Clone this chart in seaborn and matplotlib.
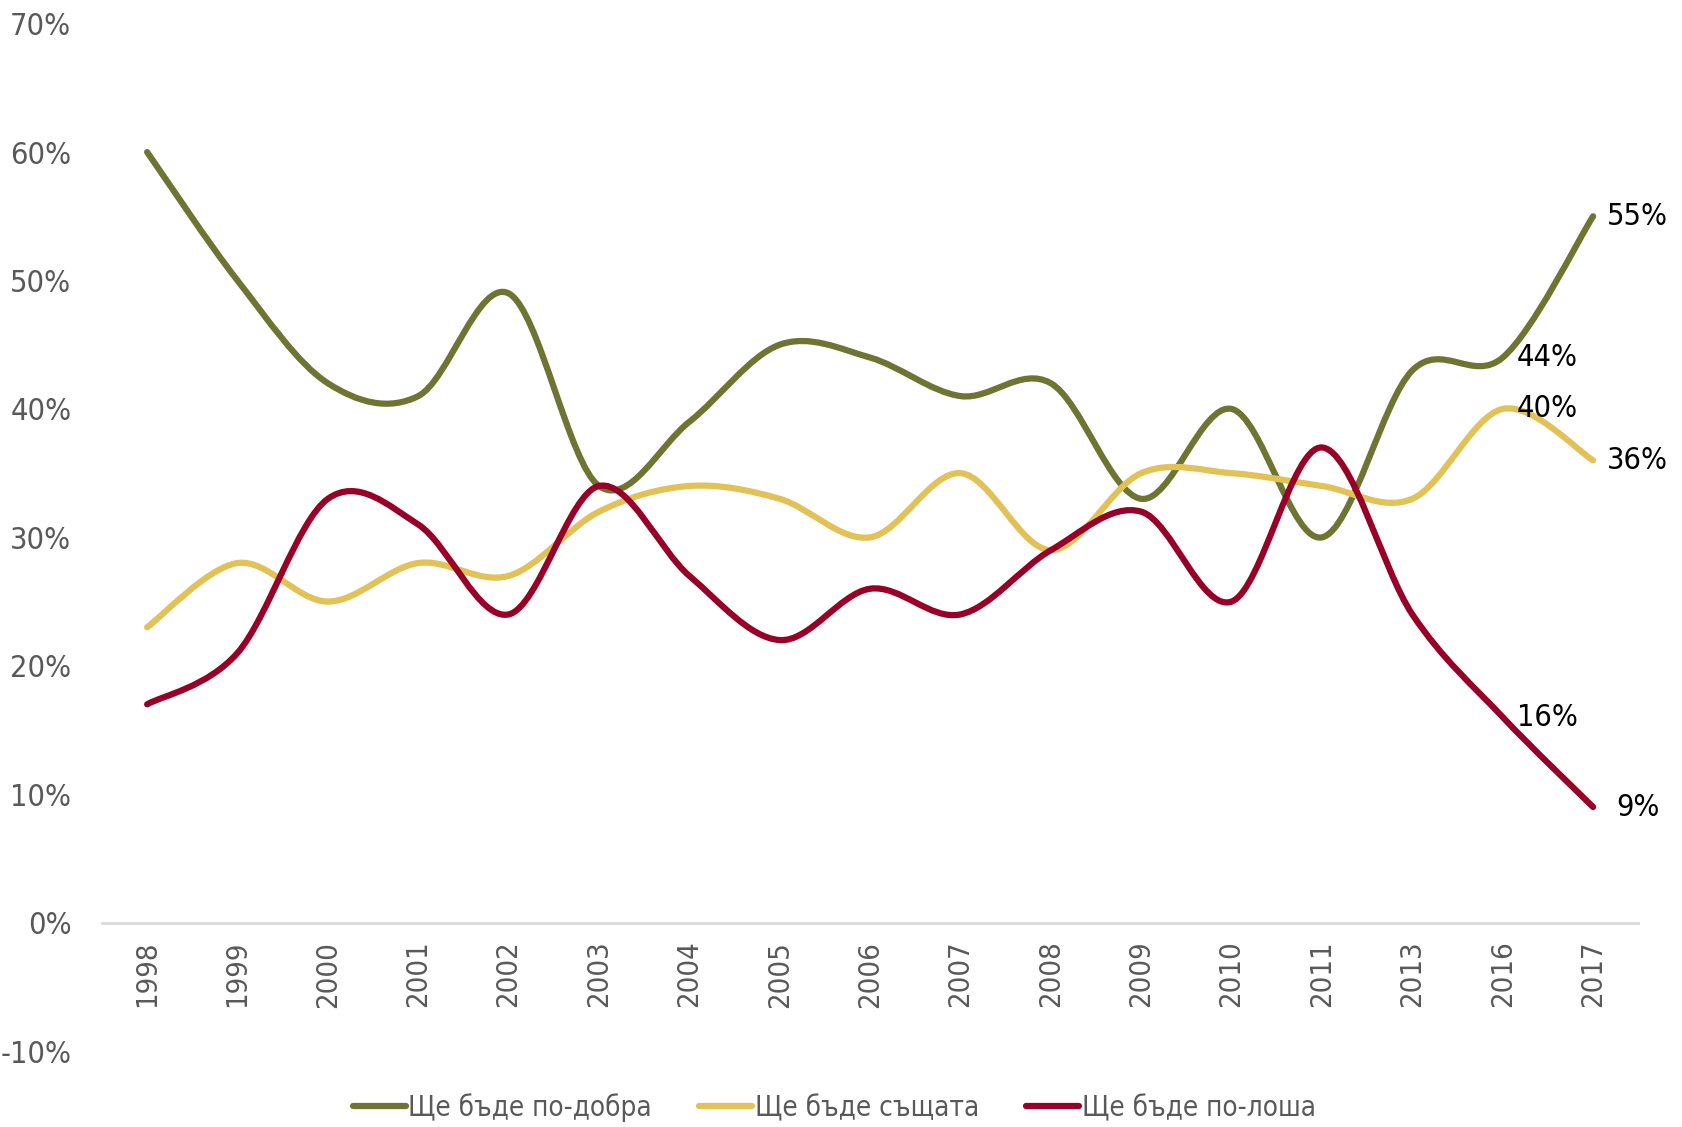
import numpy as np
import pandas as pd
import matplotlib
matplotlib.use("Agg")
import matplotlib.pyplot as plt
import seaborn as sns
from matplotlib.path import Path
from matplotlib.patches import PathPatch
from matplotlib.lines import Line2D

years = ["1998", "1999", "2000", "2001", "2002", "2003", "2004", "2005", "2006",
         "2007", "2008", "2009", "2010", "2011", "2013", "2016", "2017"]
better = [60, 50, 42, 41, 49, 34, 39, 45, 44, 41, 42, 33, 40, 30, 43, 44, 55]
same = [23, 28, 25, 28, 27, 32, 34, 33, 30, 35, 29, 35, 35, 34, 33, 40, 36]
worse = [17, 21, 33, 31, 24, 34, 27, 22, 26, 24, 29, 32, 25, 37, 24, 16, 9]

names = ["Ще бъде по-добра", "Ще бъде същата", "Ще бъде по-лоша"]
colors = ["#6E7532", "#E2C257", "#990027"]

# labels shown only on the last two points
shown = {0: [15, 16], 1: [15, 16], 2: [15, 16]}

sns.set_theme(style="white")
plt.rcParams['font.family'] = ['DejaVu Sans']
plt.rcParams['font.stretch'] = 'condensed'

fig = plt.figure(figsize=(16.82, 11.27), dpi=100)
ax = fig.add_axes([0.0606, 0.0674, 0.9134, 0.9116])


def smooth_path(xs, ys):
    # excel-like smoothed line: cubic bezier, catmull-rom tangents
    pts = np.column_stack([xs, ys]).astype(float)
    n = len(pts)
    verts = [pts[0]]
    codes = [Path.MOVETO]
    for i in range(n - 1):
        p0 = pts[max(i - 1, 0)]
        p1 = pts[i]
        p2 = pts[i + 1]
        p3 = pts[min(i + 2, n - 1)]
        c1 = p1 + (p2 - p0) / 6.0
        c2 = p2 - (p3 - p1) / 6.0
        verts += [c1, c2, p2]
        codes += [Path.CURVE4] * 3
    return Path(verts, codes)


x = np.arange(len(years))
for k, vals in enumerate([better, same, worse]):
    patch = PathPatch(smooth_path(x, vals), facecolor="none", edgecolor=colors[k],
                      lw=4.5, capstyle="round", joinstyle="round", zorder=3)
    ax.add_patch(patch)
    for i in shown[k]:
        ax.annotate(f"{vals[i]}%", (x[i], vals[i]), xytext=(32, 0),
                    textcoords="offset points", ha="center", va="center",
                    fontsize=22, color="black", zorder=4)

ax.set_xlim(-0.5, len(years) - 0.5)
ax.set_ylim(-10, 70)
ax.set_yticks(range(-10, 71, 10))
ax.set_yticklabels([f"{v}%" for v in range(-10, 71, 10)])
ax.set_xticks(x)
ax.set_xticklabels(years)

for s in ["top", "right", "left"]:
    ax.spines[s].set_visible(False)
ax.spines["bottom"].set_position(("data", 0))
ax.spines["bottom"].set_color("#D9D9D9")
ax.spines["bottom"].set_linewidth(2)
ax.tick_params(axis="x", length=0, pad=13, labelsize=21, labelcolor="#595959",
               labelrotation=90)
ax.tick_params(axis="y", length=0, pad=22, labelsize=22, labelcolor="#595959")
ax.grid(False)

handles = [Line2D([], [], color=c, lw=4.5, solid_capstyle="round") for c in colors]
fig.legend(handles, names, loc="center", bbox_to_anchor=(0.496, 0.0171),
           ncol=3, frameon=False, fontsize=20, handlelength=1.9,
           handletextpad=0.1, columnspacing=1.7, labelcolor="#595959",
           borderpad=0)

fig.savefig("out.png", dpi=100)
